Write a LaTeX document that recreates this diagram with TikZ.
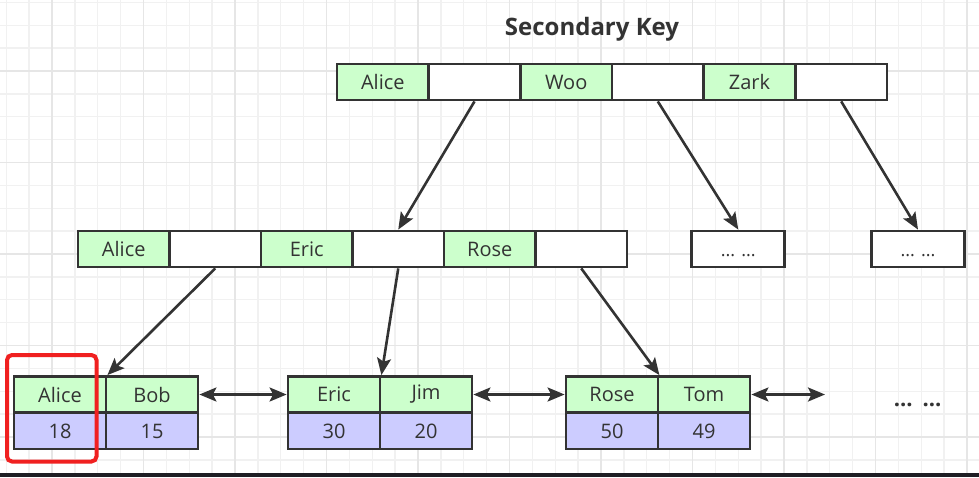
\documentclass[tikz,border=0pt]{standalone}
\usepackage{fontspec}
\setmainfont{Open Sans}
\usetikzlibrary{arrows.meta}
\definecolor{keyg}{HTML}{CCFFCC}
\definecolor{valp}{HTML}{CCCCFF}
\definecolor{ink}{HTML}{333333}
\definecolor{gridminor}{HTML}{F1F1F1}
\definecolor{gridmajor}{HTML}{E6E6E6}
\definecolor{band}{HTML}{1E1E24}
\definecolor{hilite}{HTML}{F02020}
\tikzset{
  cell/.style={draw=ink, line width=2.8pt, minimum height=36pt, inner sep=0pt,
    font=\fontsize{20}{24}\selectfont, text=ink},
  keycell/.style={cell, fill=keyg, minimum width=91.7pt},
  ptrcell/.style={cell, fill=white, minimum width=91.7pt},
  valcell/.style={cell, fill=valp, minimum width=91.7pt},
  morebox/.style={cell, fill=white, minimum width=93pt, text height=14pt, text depth=0pt,
    font=\fontsize{18}{22}\selectfont},
  arr/.style={draw=ink, line width=2.6pt, -{Stealth[length=17pt,width=14pt,inset=3.5pt]}},
  biarr/.style={draw=ink, line width=2.6pt, {Stealth[length=17pt,width=14pt,inset=3.5pt]}-{Stealth[length=17pt,width=14pt,inset=3.5pt]}},
  titletext/.style={font=\fontsize{24}{28}\selectfont\bfseries, text=ink},
  dotstext/.style={font=\fontsize{22}{26}\selectfont\bfseries, text=ink, anchor=base, inner sep=0pt}
}
\begin{document}
\begin{tikzpicture}[x=1pt,y=-1pt]
\useasboundingbox (0,0) rectangle (979,477);
% background and grid
\fill[white] (0,0) rectangle (979,477);
\foreach \i in {0,...,42} {
  \draw[gridminor, line width=1.4pt] ({6.25+22.875*\i},0) -- ({6.25+22.875*\i},472.5);
}
\foreach \i in {0,...,20} {
  \draw[gridminor, line width=1.4pt] (0,{2.4+22.875*\i}) -- (979,{2.4+22.875*\i});
}
\foreach \i in {0,...,10} {
  \draw[gridmajor, line width=1.4pt] ({52+91.5*\i},0) -- ({52+91.5*\i},472.5);
}
\foreach \i in {0,...,4} {
  \draw[gridmajor, line width=1.4pt] (0,{71+91.5*\i}) -- (979,{71+91.5*\i});
}
\fill[band] (0,472.5) rectangle (979,477);

% title
\node[titletext] (title) at (592,29) {Secondary Key};

% top row
\node[keycell] (t1) at (382.8,82) {Alice};
\node[ptrcell] (t2) at (474.5,82) {};
\node[keycell] (t3) at (566.2,82) {Woo};
\node[ptrcell] (t4) at (657.8,82) {};
\node[keycell] (t5) at (749.5,82) {Zark};
\node[ptrcell] (t6) at (841.2,82) {};

% middle row
\node[keycell, minimum width=91.5pt] (m1) at (123.75,249) {Alice};
\node[ptrcell, minimum width=91.5pt] (m2) at (215.25,249) {};
\node[keycell, minimum width=91.5pt] (m3) at (306.75,249) {Eric};
\node[ptrcell, minimum width=91.5pt] (m4) at (398.25,249) {};
\node[keycell, minimum width=91.5pt] (m5) at (489.75,249) {Rose};
\node[ptrcell, minimum width=91.5pt] (m6) at (581.25,249) {};
\node[morebox] (e1) at (738.3,249) {... ...};
\node[morebox] (e2) at (918,249) {... ...};

% leaves
\node[keycell, minimum width=92pt] (l1a) at (60,394.5) {Alice};
\node[keycell, minimum width=92pt] (l1b) at (152,394.5) {Bob};
\node[valcell, minimum width=92pt] (v1a) at (60,431) {18};
\node[valcell, minimum width=92pt] (v1b) at (152,431) {15};

\node[keycell, minimum width=92pt] (l2a) at (334,394.5) {Eric};
\node[keycell, minimum width=92pt] (l2b) at (426,394.5) {Jim};
\node[valcell, minimum width=92pt] (v2a) at (334,431) {30};
\node[valcell, minimum width=92pt] (v2b) at (426,431) {20};

\node[keycell, minimum width=92pt] (l3a) at (612,394.5) {Rose};
\node[keycell, minimum width=92pt] (l3b) at (704,394.5) {Tom};
\node[valcell, minimum width=92pt] (v3a) at (612,431) {50};
\node[valcell, minimum width=92pt] (v3b) at (704,431) {49};

\node[dotstext] (more) at (917.7,406) {...\hspace{10pt}...};
\coordinate (l4) at (825,394.5);

% connectors
\draw[arr] (t2.south) -- (m4.north);
\draw[arr] (t4.south) -- (e1.north);
\draw[arr] (t6.south) -- (e2.north);
\draw[arr] (m2.south) -- (l1a.north east);
\draw[arr] (m4.south) -- (l2a.north east);
\draw[arr] (m6.south) -- (l3a.north east);
\draw[biarr] (l1b.east) -- (l2a.west);
\draw[biarr] (l2b.east) -- (l3a.west);
\draw[biarr] (l3b.east) -- (l4);

% highlight
\draw[hilite, line width=4pt, rounded corners=5pt] (7,355) rectangle (96.5,461.5);
\end{tikzpicture}
\end{document}
